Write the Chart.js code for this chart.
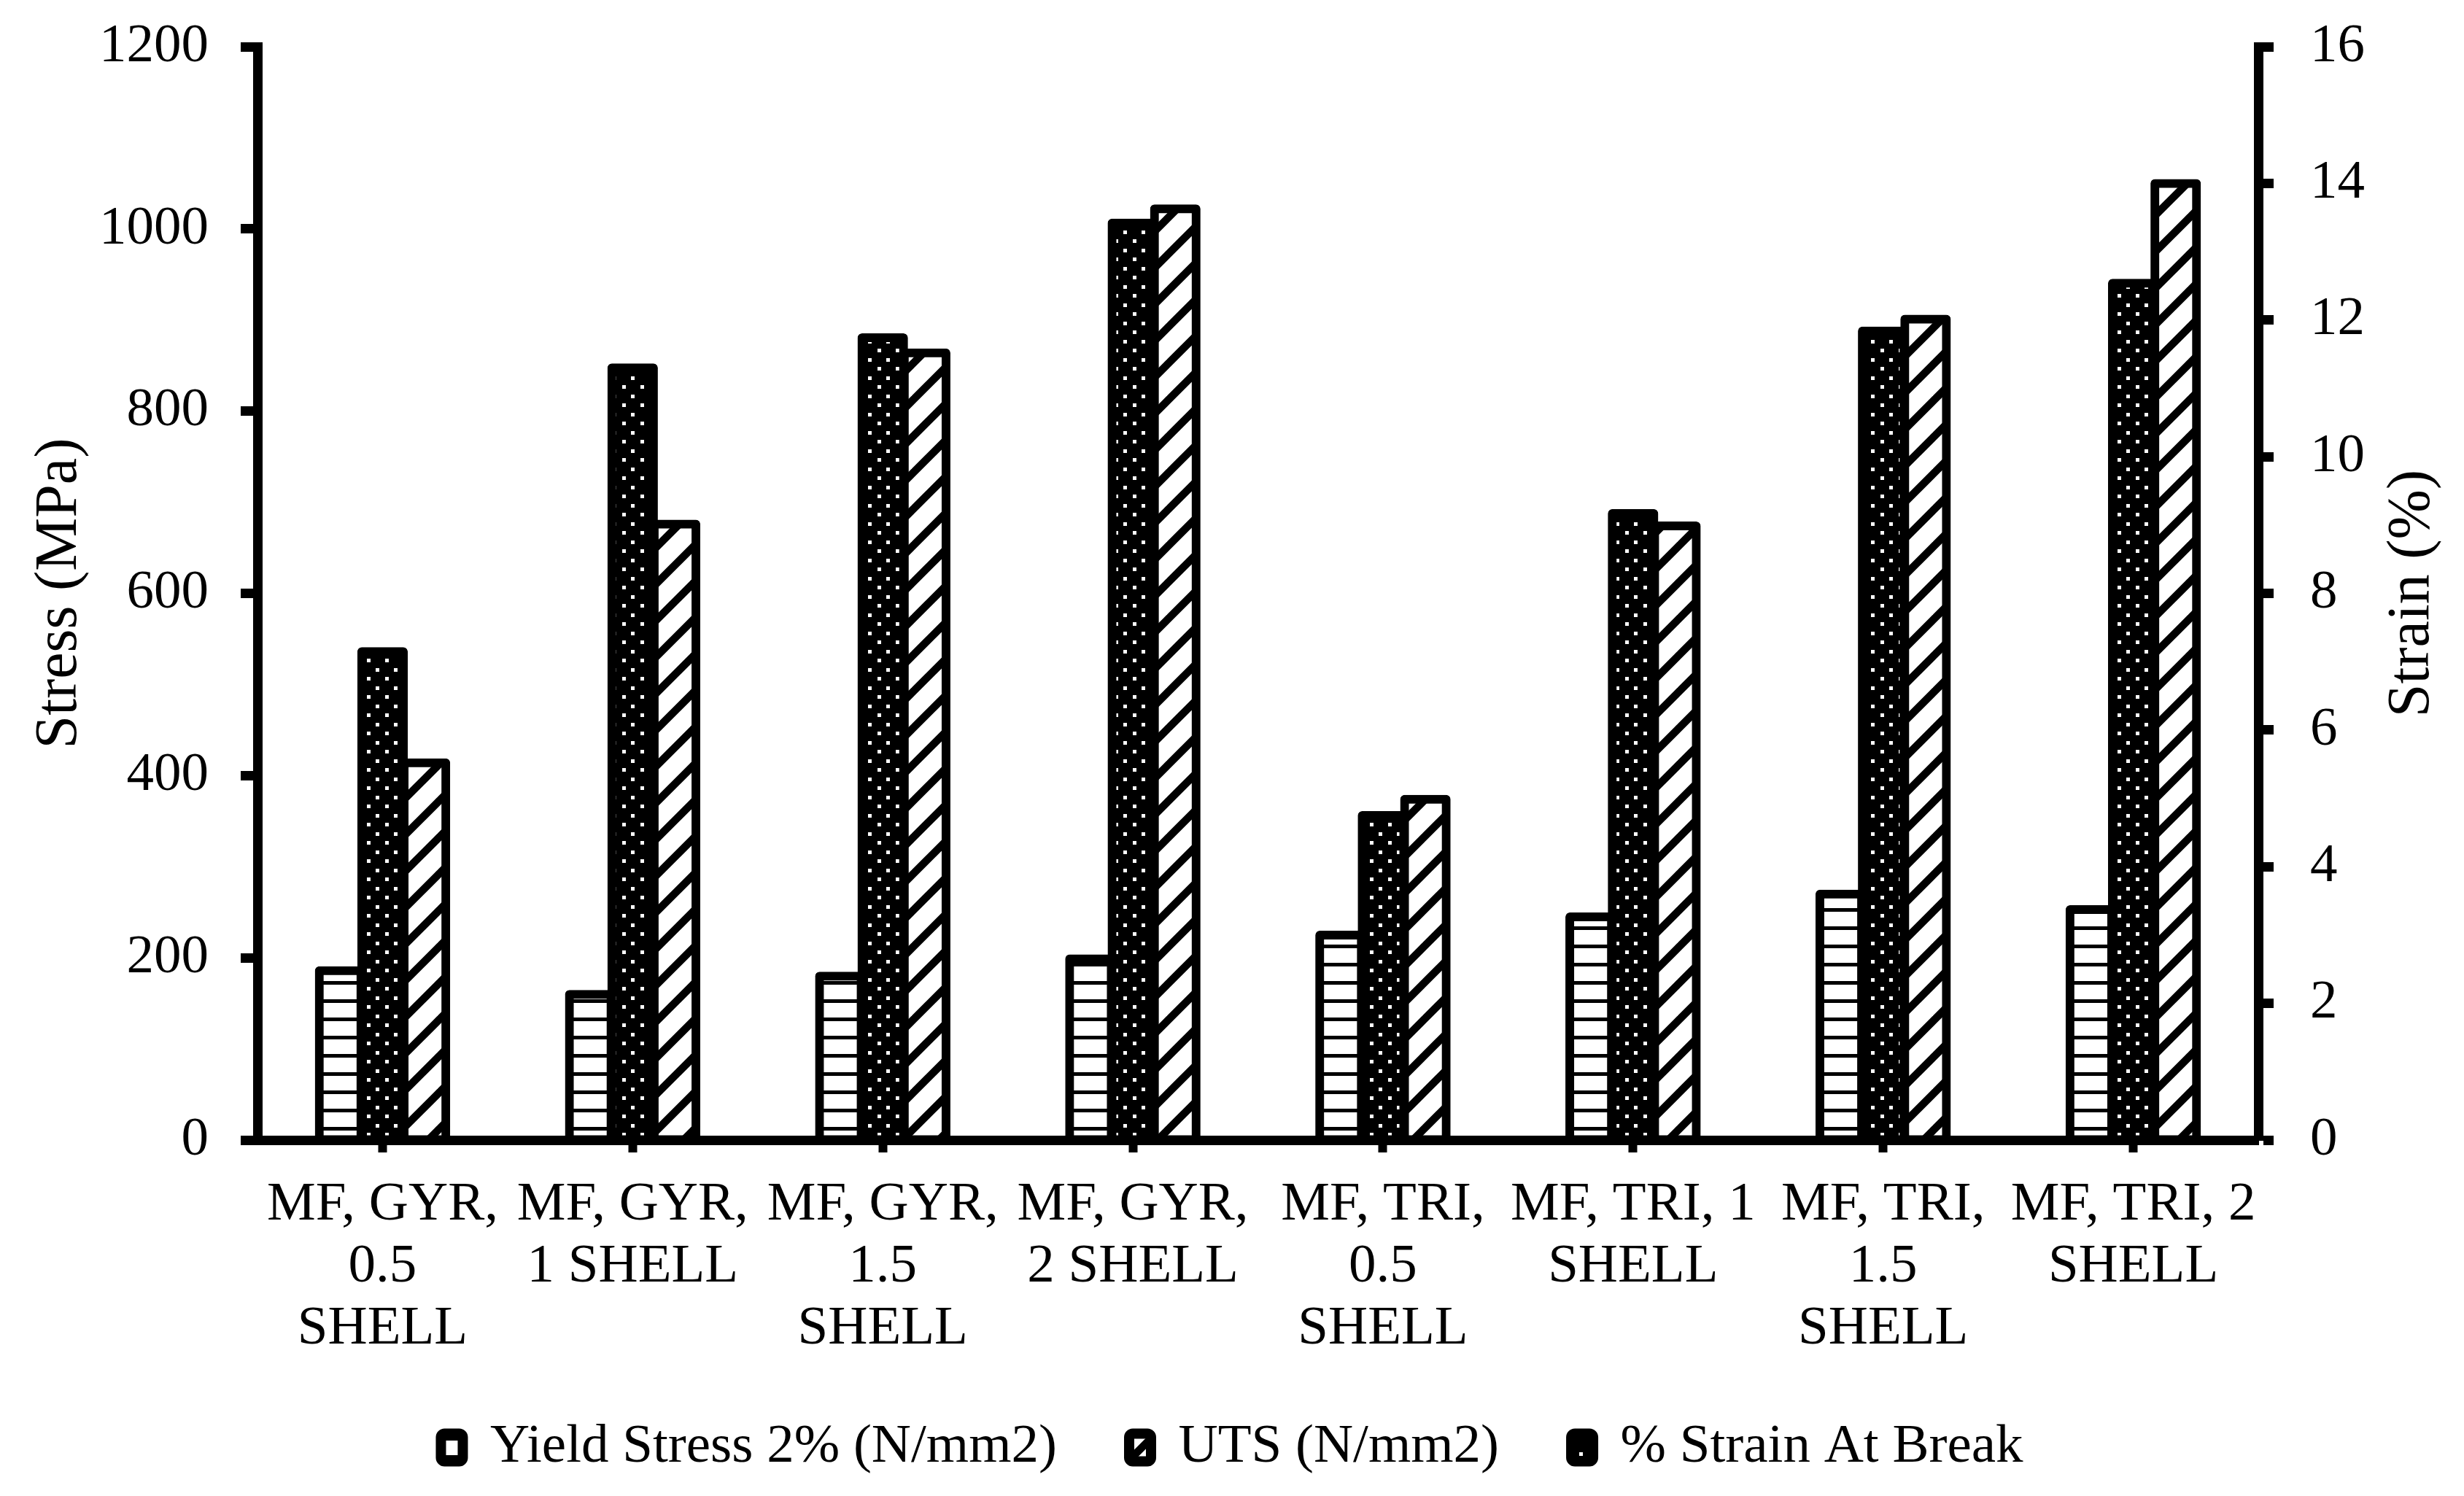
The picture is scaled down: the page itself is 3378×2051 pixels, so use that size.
<!DOCTYPE html>
<html>
<head>
<meta charset="utf-8">
<script src="https://cdn.jsdelivr.net/npm/chart.js@4.4.1/dist/chart.umd.min.js"></script>
<style>
html,body{margin:0;padding:0;background:#fff;}
canvas{display:block;}
</style>
</head>
<body>
<canvas id="c" width="3378" height="2051" style="width:3378px;height:2051px"></canvas>
<script>
// ---- data ----
const categories = [
  ["MF, GYR,", "0.5", "SHELL"],
  ["MF, GYR,", "1 SHELL"],
  ["MF, GYR,", "1.5", "SHELL"],
  ["MF, GYR,", "2 SHELL"],
  ["MF, TRI,", "0.5", "SHELL"],
  ["MF, TRI, 1", "SHELL"],
  ["MF, TRI,", "1.5", "SHELL"],
  ["MF, TRI, 2", "SHELL"]
];
const yieldStress   = [186, 160, 180, 199, 225, 245, 270, 253];
const strainAtBreak = [7.15, 11.30, 11.74, 13.42, 4.75, 9.17, 11.84, 12.54];
const utsValues     = [414, 676, 864, 1022, 374, 674, 901, 1050];
const seriesNames   = ["Yield Stress 2% (N/mm2)", "% Strain At Break", "UTS (N/mm2)"];
const legendOrder   = ["Yield Stress 2% (N/mm2)", "UTS (N/mm2)", "% Strain At Break"];
const stressAxis    = [0, 1200, 200];   // min, max, step
const strainAxis    = [0, 16, 2];
const leftTitle     = "Stress (MPa)";
const rightTitle    = "Strain (%)";

// ---- patterns ----
const mainCtx = document.getElementById('c').getContext('2d');
function makeTile(w, h, draw) {
  const c = document.createElement('canvas');
  c.width = w; c.height = h;
  const g = c.getContext('2d');
  draw(g, w, h);
  return mainCtx.createPattern(c, 'repeat');
}
const hStripes = makeTile(25, 25, g => {
  g.fillStyle = '#fff'; g.fillRect(0, 0, 25, 25);
  g.fillStyle = '#000'; g.fillRect(0, 20, 25, 5);
});
const dots = makeTile(25, 25, g => {
  g.fillStyle = '#000'; g.fillRect(0, 0, 25, 25);
  g.fillStyle = '#fff';
  g.fillRect(3, 3, 5, 5);
  g.fillRect(15, 16, 5, 5);
});
const diag = makeTile(50, 50, g => {
  g.fillStyle = '#fff'; g.fillRect(0, 0, 50, 50);
  g.strokeStyle = '#000'; g.lineWidth = 10.5;
  [0, 50, 100].forEach(c => {
    g.beginPath();
    g.moveTo(c + 15, -15);
    g.lineTo(-15, c + 15);
    g.stroke();
  });
});

Chart.defaults.font.family = '"Liberation Serif", "Times New Roman", serif';
Chart.defaults.color = '#000';

const common = {
  borderColor: '#000',
  borderWidth: 12,
  borderSkipped: false,
  borderRadius: {topLeft: 6, topRight: 6, bottomLeft: 0, bottomRight: 0},
  categoryPercentage: 0.509,
  barPercentage: 0.983,
  inflateAmount: 6
};

const rightTitlePlugin = {
  id: 'rightTitle',
  afterDraw(chart) {
    const ctx = chart.ctx;
    ctx.save();
    ctx.translate(3307, (chart.chartArea.top + chart.chartArea.bottom) / 2);
    ctx.rotate(-Math.PI / 2);
    ctx.font = '82px "Liberation Serif", "Times New Roman", serif';
    ctx.fillStyle = '#000';
    ctx.textAlign = 'center';
    ctx.textBaseline = 'middle';
    ctx.fillText(rightTitle, 0, 0);
    ctx.restore();
  }
};

function noVerticalPadding(s, w) {
  s.width = w;
  s.paddingTop = 0;
  s.paddingBottom = 0;
}

new Chart(mainCtx, {
  type: 'bar',
  data: {
    labels: categories,
    datasets: [
      Object.assign({label: seriesNames[0], data: yieldStress, yAxisID: 'y', backgroundColor: hStripes}, common),
      Object.assign({label: seriesNames[1], data: strainAtBreak, yAxisID: 'y2', backgroundColor: dots}, common),
      Object.assign({label: seriesNames[2], data: utsValues, yAxisID: 'y', backgroundColor: diag}, common)
    ]
  },
  options: {
    responsive: false,
    devicePixelRatio: 1,
    animation: false,
    layout: {padding: {top: 64, left: 0, right: 0, bottom: 19}},
    plugins: {
      tooltip: {enabled: false},
      legend: {
        position: 'bottom',
        labels: {
          font: {size: 75},
          boxWidth: 30,
          boxHeight: 38,
          padding: 99,
          useBorderRadius: true,
          borderRadius: 5,
          generateLabels(chart) {
            const items = Chart.defaults.plugins.legend.labels.generateLabels(chart);
            items.forEach(i => { i.lineWidth = 14; i.strokeStyle = '#000'; });
            return items;
          },
          sort: (a, b) => legendOrder.indexOf(a.text) - legendOrder.indexOf(b.text)
        }
      }
    },
    scales: {
      x: {
        grid: {display: true, drawOnChartArea: false, offset: false, tickLength: 17, tickWidth: 12, tickColor: '#000', color: '#000'},
        border: {display: true, color: '#000', width: 13},
        ticks: {font: {size: 75, lineHeight: 1.133}, padding: 30, maxRotation: 0, minRotation: 0, autoSkip: false},
        afterFit(s) { s.height = 285; }
      },
      y: {
        position: 'left',
        min: stressAxis[0], max: stressAxis[1],
        ticks: {stepSize: stressAxis[2], font: {size: 75}, padding: 44, callback: v => String(v)},
        grid: {drawOnChartArea: false, tickLength: 23, tickWidth: 13, tickColor: '#000', color: '#000'},
        border: {display: true, color: '#000', width: 13},
        title: {display: true, text: leftTitle, font: {size: 82, lineHeight: 1.2}, padding: {top: 33, bottom: 0}},
        afterFit(s) { noVerticalPadding(s, 353); }
      },
      y2: {
        position: 'right',
        min: strainAxis[0], max: strainAxis[1],
        ticks: {stepSize: strainAxis[2], font: {size: 75}, padding: 50, callback: v => String(v)},
        grid: {drawOnChartArea: false, tickLength: 21, tickWidth: 13, tickColor: '#000', color: '#000'},
        border: {display: true, color: '#000', width: 13},
        afterFit(s) { noVerticalPadding(s, 282); }
      }
    }
  },
  plugins: [rightTitlePlugin]
});
</script>
</body>
</html>
